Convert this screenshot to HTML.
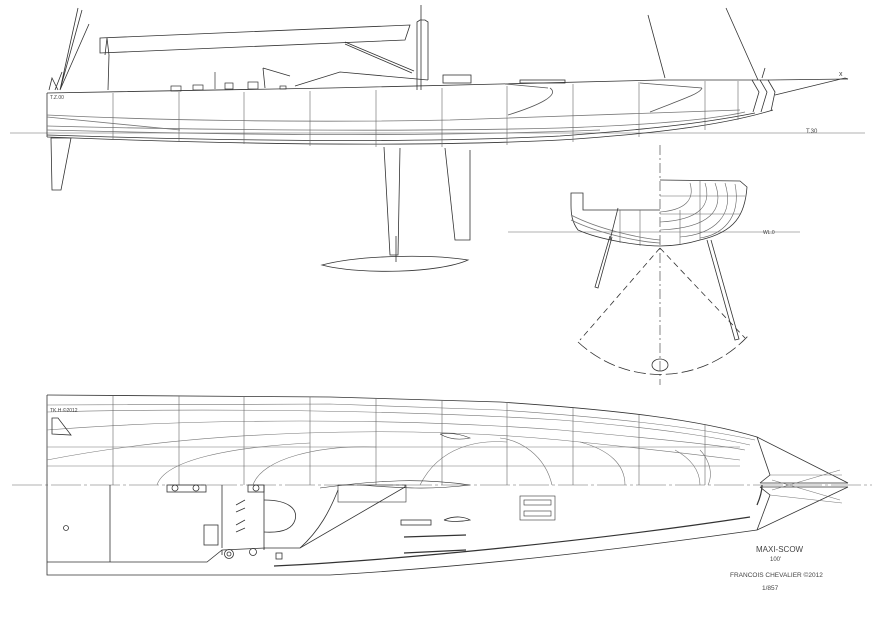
<!DOCTYPE html>
<html><head><meta charset="utf-8"><style>
html,body{margin:0;padding:0;background:#fff;width:884px;height:624px;overflow:hidden}
svg{display:block}
text{font-family:"Liberation Sans",sans-serif;fill:#444}
</style></head><body>
<svg width="884" height="624" viewBox="0 0 884 624" xmlns="http://www.w3.org/2000/svg" fill="none" stroke="#333" stroke-width="0.8">
<line x1="10" y1="133" x2="865" y2="133" stroke="#666" stroke-width="0.6"/>
<text x="806" y="133" font-size="6" stroke="none">T.30</text>
<path d="M47 93 L330 88 L500 84 L660 80 L770 80 L848 79"/>
<path d="M47 93 L47 137"/>
<path d="M47 137 C200 143 400 148 560 140 C650 134 720 126 773 110"/>
<path d="M47 135 C200 140 400 144 560 136 C640 130 700 124 755 113"/>
<path d="M47 126 C200 130 400 132 560 128 C650 125 710 120 745 112" stroke="#777"/>
<path d="M47 115 C150 120 300 123 450 120 C550 117 650 114 740 110" stroke="#777"/>
<path d="M47 130 C200 134 400 138 600 130" stroke="#777"/>
<path d="M47 117 L180 130" stroke="#777"/>
<path d="M508 115 C540 105 560 95 550 88" stroke="#555"/>
<path d="M650 112 C680 100 700 94 702 88" stroke="#555"/>
<path d="M505 84 L548 88 M640 83 L702 88" stroke="#555"/>
<path d="M752 80 L759 92 L753 112 M760 80 L767 92 L761 112 M768 80 L775 92 L771 111"/>
<path d="M775 95 L845 78 L848 79"/>
<path d="M762 78 L765 68" />
<text x="839" y="76" font-size="7" stroke="none">x</text>
<g stroke="#666" stroke-width="0.6">
<line x1="113" y1="93" x2="113" y2="140"/><line x1="179" y1="92" x2="179" y2="142"/>
<line x1="244" y1="92" x2="244" y2="144"/><line x1="310" y1="91" x2="310" y2="146"/>
<line x1="376" y1="90" x2="376" y2="147"/><line x1="442" y1="88" x2="442" y2="147"/>
<line x1="507" y1="86" x2="507" y2="145"/><line x1="573" y1="84" x2="573" y2="142"/>
<line x1="639" y1="82" x2="639" y2="137"/><line x1="705" y1="81" x2="705" y2="130"/>
<line x1="738" y1="81" x2="738" y2="120"/>
</g>
<text x="50" y="99" font-size="5" stroke="none">T.Z.00</text>
<path d="M51 138 L71 138 L61 190 L52 190 Z"/>
<path d="M60 90 L78 8 M60 90 L82 10 M60 90 L89 24"/>
<path d="M49 90 L52 78 L58 90 M55 90 L62 72"/>
<path d="M417 90 L417 22 L420 20 L425 20 L428 22 L428 80"/>
<path d="M421 90 L421 5"/>
<path d="M100 38 L410 25 L405 40 L100 53 Z"/>
<path d="M107 38 L109 55 L108 90 M107 38 L105 55"/>
<path d="M345 42 L414 71 M345 44 L412 73"/>
<path d="M263 68 L265 88 M263 68 L290 76 M295 86 L340 72 L428 80"/>
<g stroke-width="0.7">
<rect x="171" y="86" width="10" height="5"/><rect x="193" y="85" width="10" height="5"/>
<rect x="225" y="83" width="8" height="6"/><rect x="248" y="82" width="10" height="7"/>
<line x1="215" y1="72" x2="215" y2="89"/><rect x="280" y="86" width="6" height="3"/>
</g>
<rect x="443" y="75" width="28" height="8"/>
<rect x="520" y="80" width="45" height="3"/>
<path d="M648 15 L665 78 M726 8 L758 80"/>
<path d="M384 147 L390 255 L398 255 L400 148"/>
<path d="M445 148 L455 240 L470 240 L470 150"/>
<path d="M322 265 C360 255 430 254 468 260 C440 273 360 275 322 265 Z"/>
<line x1="396" y1="236" x2="396" y2="262"/>
<line x1="508" y1="232" x2="800" y2="232" stroke="#666" stroke-width="0.6"/>
<text x="763" y="234" font-size="5" stroke="none">WL.0</text>
<line x1="660" y1="145" x2="660" y2="385" stroke-dasharray="10 3 2 3" stroke-width="0.6"/>
<path d="M660 180 L740 181 L747 187 C745 215 735 232 700 240 C680 246 665 246 660 246 C640 246 600 240 578 230 C572 222 571 214 571 205 L571 193 L583 193 L583 210 L660 210"/>
<path d="M571 215 C600 230 640 238 660 240 M571 220 C600 234 640 242 660 243" stroke="#777"/>
<g stroke="#666" stroke-width="0.6">
<path d="M705 183 C712 205 700 220 660 222 M715 183 C725 210 710 228 660 230 M725 183 C735 215 715 234 680 237 M735 184 C742 220 720 235 700 238 M690 183 C695 200 685 210 660 212"/>
<line x1="660" y1="196" x2="745" y2="196"/><line x1="660" y1="214" x2="740" y2="214"/>
<line x1="680" y1="210" x2="680" y2="245"/><line x1="700" y1="181" x2="700" y2="240"/>
<line x1="620" y1="210" x2="620" y2="243"/><line x1="640" y1="210" x2="640" y2="246"/>
</g>
<path d="M612 237 L598 288 L595 287 L610 236"/>
<path d="M618 208 L610 240"/>
<path d="M707 240 L735 340 L739 339 L711 240"/>
<path d="M660 248 L580 340 M660 248 L745 338" stroke-dasharray="6 4"/>
<path d="M578 342 A120 120 0 0 0 748 336" stroke-dasharray="12 4"/>
<ellipse cx="660" cy="365" rx="8" ry="6"/>
<line x1="12" y1="485" x2="872" y2="485" stroke="#666" stroke-width="0.6" stroke-dasharray="30 3 3 3"/>
<path d="M47 395 L330 397 L500 402 C620 410 700 420 757 437 L848 483"/>
<path d="M47 395 L47 575 L330 575 C500 565 650 545 757 530 L848 487"/>
<path d="M757 437 L770 475 L760 483 M757 530 L770 495 L760 487 M760 483 L848 483 M760 487 L848 487"/>
<path d="M770 475 L842 475 M770 495 L842 503 M772 480 L840 500 M772 490 L840 470" stroke="#777" stroke-width="0.6"/>
<g stroke="#777" stroke-width="0.6">
<path d="M47 405 L330 404 L500 410 C620 418 700 428 755 440"/>
<path d="M47 412 C200 408 400 410 560 420 C660 428 720 438 750 445"/>
<path d="M47 430 C200 418 400 418 560 430 C650 438 720 445 745 450"/>
<path d="M47 460 C200 430 400 425 560 440 C640 448 700 455 740 460"/>
<line x1="47" y1="466" x2="740" y2="466"/><line x1="47" y1="447" x2="740" y2="447"/>
<path d="M157 485 C165 460 230 447 310 443 M253 485 C262 458 320 445 376 447 M420 485 C440 445 480 440 507 442 M552 485 C545 455 520 440 500 438 M625 485 C625 465 610 450 580 442 M700 485 C700 470 690 458 675 450 M708 485 C715 470 705 455 700 450"/>
</g>
<g stroke="#666" stroke-width="0.6">
<line x1="113" y1="396" x2="113" y2="485"/><line x1="179" y1="396" x2="179" y2="485"/>
<line x1="244" y1="396" x2="244" y2="485"/><line x1="310" y1="397" x2="310" y2="485"/>
<line x1="376" y1="398" x2="376" y2="485"/><line x1="442" y1="400" x2="442" y2="485"/>
<line x1="507" y1="403" x2="507" y2="485"/><line x1="573" y1="408" x2="573" y2="485"/>
<line x1="639" y1="415" x2="639" y2="485"/><line x1="705" y1="425" x2="705" y2="485"/>
</g>
<text x="50" y="412" font-size="5" stroke="none">TK.H.©2012</text>
<path d="M52 418 L58 418 L71 435 L52 434 Z"/>
<path d="M440 434 C455 432 465 436 470 438 C460 440 450 440 440 434" stroke-width="0.6"/>
<line x1="110" y1="485" x2="110" y2="562"/>
<path d="M47 562 L207 562 L222 550 L265 548"/>
<circle cx="66" cy="528" r="2.5"/>
<rect x="167" y="485" width="39" height="7"/>
<circle cx="175" cy="488" r="3"/><circle cx="196" cy="488" r="3"/>
<rect x="248" y="485" width="16" height="7"/><circle cx="256" cy="488" r="3"/>
<path d="M222 485 L222 548 M264 485 L264 550 M222 550 L222 555"/>
<rect x="204" y="525" width="14" height="20"/>
<path d="M236 505 L245 500 M236 512 L245 508 M236 525 L245 520 M236 532 L245 528"/>
<circle cx="229" cy="554" r="4.5"/><circle cx="229" cy="554" r="2"/>
<circle cx="253" cy="552" r="3.5"/>
<path d="M264 500 C290 500 298 510 295 520 C292 530 280 533 264 532"/>
<path d="M264 548 L300 548 L405 487 L405 485"/>
<path d="M300 548 C320 530 330 510 338 490"/>
<rect x="338" y="485" width="68" height="17" stroke-width="0.6"/>
<path d="M320 488 C380 480 420 478 470 485 C430 490 400 488 360 485" stroke-width="0.6"/>
<rect x="276" y="553" width="6" height="6"/>
<rect x="401" y="520" width="30" height="5"/>
<path d="M444 520 C455 515 465 517 470 520 C460 522 450 522 444 520"/>
<path d="M404 537 L466 535 M404 553 L466 550 M274 566 C400 560 600 540 750 517" stroke-width="1.2"/>
<rect x="520" y="496" width="35" height="24" stroke-width="0.6"/>
<rect x="524" y="500" width="27" height="5" stroke-width="0.6"/><rect x="524" y="511" width="27" height="5" stroke-width="0.6"/>
<path d="M757 505 C760 498 762 490 762 485" stroke-width="1.2"/>
<text x="756" y="552" font-size="8" stroke="none">MAXI-SCOW</text>
<text x="770" y="561" font-size="6" stroke="none">100'</text>
<text x="730" y="577" font-size="6.5" stroke="none">FRANCOIS CHEVALIER ©2012</text>
<text x="762" y="590" font-size="6.5" stroke="none">1/857</text>
</svg>
</body></html>
